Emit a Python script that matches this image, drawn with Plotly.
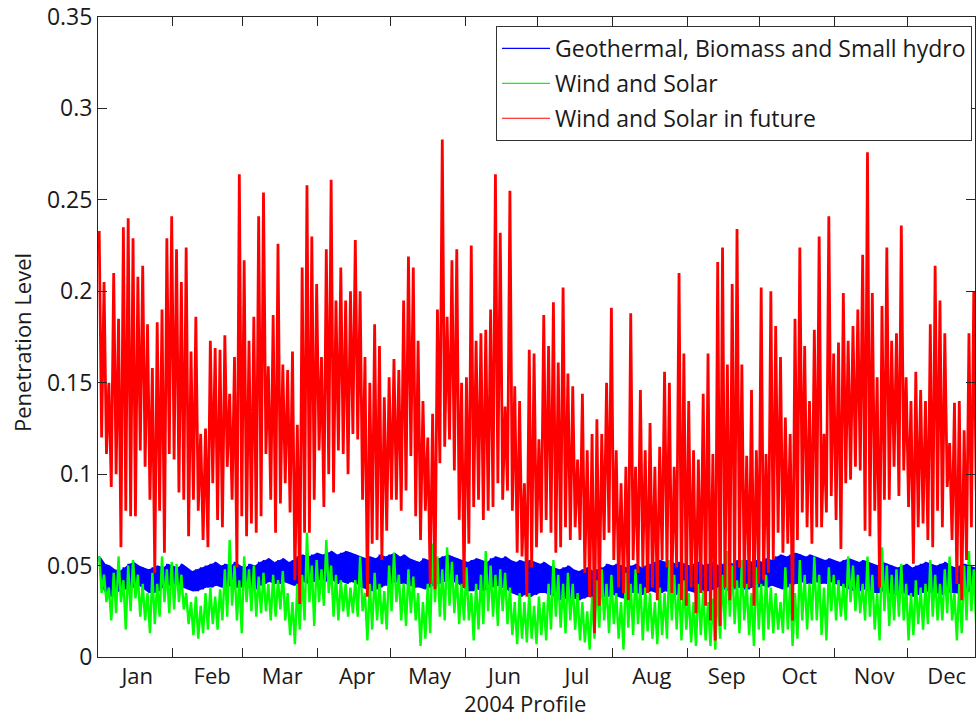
import plotly.graph_objects as go

# ---------------- data ----------------
MONTHS = ["Jan", "Feb", "Mar", "Apr", "May", "Jun", "Jul", "Aug", "Sep", "Oct", "Nov", "Dec"]
MONTH_DAYS = [31, 29, 31, 30, 31, 30, 31, 31, 30, 31, 30, 31]  # 2004 (leap year)
STEP_DAYS = 2  # each value pair = high / low of a 2-day window

SERIES_NAMES = ["Geothermal, Biomass and Small hydro", "Wind and Solar", "Wind and Solar in future"]

RED_HI = [
    0.233, 0.205, 0.150, 0.210, 0.185, 0.235, 0.240, 0.229, 0.208, 0.214,
    0.182, 0.158, 0.183, 0.190, 0.229, 0.241, 0.223, 0.205, 0.224, 0.167,
    0.186, 0.122, 0.125, 0.173, 0.169, 0.168, 0.176, 0.144, 0.164, 0.264,
    0.217, 0.173, 0.186, 0.241, 0.254, 0.159, 0.187, 0.226, 0.160, 0.157,
    0.167, 0.127, 0.213, 0.258, 0.230, 0.204, 0.164, 0.223, 0.261, 0.195,
    0.213, 0.195, 0.200, 0.228, 0.200, 0.164, 0.150, 0.182, 0.170, 0.142,
    0.153, 0.163, 0.157, 0.195, 0.219, 0.213, 0.173, 0.140, 0.120, 0.133,
    0.190, 0.283, 0.186, 0.217, 0.223, 0.150, 0.153, 0.225, 0.173, 0.177,
    0.179, 0.190, 0.264, 0.232, 0.137, 0.255, 0.148, 0.140, 0.095, 0.168,
    0.166, 0.119, 0.187, 0.170, 0.194, 0.161, 0.202, 0.155, 0.148, 0.108,
    0.144, 0.113, 0.122, 0.130, 0.122, 0.150, 0.191, 0.113, 0.095, 0.104,
    0.188, 0.104, 0.146, 0.113, 0.128, 0.104, 0.115, 0.156, 0.150, 0.104,
    0.210, 0.166, 0.140, 0.113, 0.108, 0.144, 0.166, 0.111, 0.216, 0.224,
    0.160, 0.204, 0.234, 0.160, 0.110, 0.146, 0.113, 0.202, 0.111, 0.200,
    0.181, 0.164, 0.131, 0.122, 0.185, 0.224, 0.170, 0.140, 0.179, 0.230,
    0.122, 0.241, 0.166, 0.172, 0.199, 0.173, 0.181, 0.190, 0.220, 0.276,
    0.199, 0.153, 0.192, 0.224, 0.173, 0.177, 0.236, 0.153, 0.140, 0.156,
    0.146, 0.140, 0.182, 0.214, 0.195, 0.177, 0.117, 0.139, 0.140, 0.124,
    0.177, 0.200,
]
RED_LO = [
    0.120, 0.111, 0.093, 0.100, 0.060, 0.080, 0.077, 0.077, 0.113, 0.104,
    0.086, 0.046, 0.080, 0.057, 0.111, 0.108, 0.090, 0.086, 0.066, 0.086,
    0.080, 0.064, 0.060, 0.095, 0.075, 0.071, 0.104, 0.086, 0.049, 0.077,
    0.066, 0.073, 0.068, 0.077, 0.111, 0.086, 0.068, 0.084, 0.095, 0.079,
    0.042, 0.029, 0.068, 0.068, 0.086, 0.113, 0.082, 0.100, 0.090, 0.113,
    0.111, 0.100, 0.122, 0.119, 0.086, 0.033, 0.062, 0.064, 0.053, 0.069,
    0.086, 0.086, 0.080, 0.091, 0.110, 0.077, 0.064, 0.080, 0.040, 0.037,
    0.106, 0.115, 0.119, 0.102, 0.075, 0.038, 0.062, 0.082, 0.086, 0.075,
    0.080, 0.082, 0.095, 0.086, 0.091, 0.080, 0.057, 0.055, 0.033, 0.049,
    0.060, 0.068, 0.075, 0.068, 0.057, 0.060, 0.071, 0.064, 0.071, 0.064,
    0.046, 0.033, 0.013, 0.028, 0.064, 0.068, 0.053, 0.038, 0.035, 0.031,
    0.053, 0.046, 0.049, 0.035, 0.038, 0.031, 0.053, 0.049, 0.035, 0.049,
    0.031, 0.028, 0.038, 0.024, 0.035, 0.028, 0.020, 0.009, 0.017, 0.038,
    0.031, 0.038, 0.049, 0.038, 0.038, 0.028, 0.040, 0.042, 0.046, 0.053,
    0.068, 0.057, 0.062, 0.020, 0.064, 0.079, 0.071, 0.062, 0.071, 0.071,
    0.079, 0.088, 0.075, 0.059, 0.095, 0.097, 0.104, 0.102, 0.069, 0.066,
    0.080, 0.038, 0.086, 0.086, 0.104, 0.088, 0.102, 0.082, 0.051, 0.071,
    0.073, 0.064, 0.060, 0.080, 0.071, 0.093, 0.064, 0.040, 0.031, 0.053,
    0.071, 0.091,
]
BLUE_HI = [
    0.055, 0.051, 0.050, 0.048, 0.047, 0.049, 0.051, 0.052, 0.050, 0.049,
    0.048, 0.049, 0.050, 0.049, 0.051, 0.050, 0.049, 0.051, 0.049, 0.047,
    0.048, 0.049, 0.050, 0.051, 0.052, 0.050, 0.051, 0.050, 0.052, 0.050,
    0.049, 0.051, 0.050, 0.052, 0.053, 0.054, 0.052, 0.053, 0.054, 0.052,
    0.053, 0.055, 0.056, 0.055, 0.056, 0.057, 0.056, 0.057, 0.058, 0.056,
    0.057, 0.058, 0.057, 0.056, 0.055, 0.054, 0.055, 0.054, 0.056, 0.055,
    0.056, 0.057, 0.055, 0.056, 0.054, 0.053, 0.052, 0.054, 0.053, 0.052,
    0.054, 0.055, 0.056, 0.055, 0.054, 0.053, 0.052, 0.053, 0.054, 0.053,
    0.052, 0.054, 0.055, 0.054, 0.055, 0.053, 0.052, 0.053, 0.052, 0.053,
    0.052, 0.051, 0.052, 0.050, 0.049, 0.048, 0.049, 0.050, 0.048, 0.047,
    0.048, 0.049, 0.047, 0.048, 0.049, 0.051, 0.050, 0.051, 0.050, 0.049,
    0.050, 0.051, 0.049, 0.050, 0.051, 0.052, 0.053, 0.052, 0.053, 0.051,
    0.052, 0.051, 0.050, 0.051, 0.052, 0.050, 0.051, 0.052, 0.050, 0.051,
    0.052, 0.051, 0.053, 0.052, 0.053, 0.052, 0.053, 0.052, 0.054, 0.053,
    0.055, 0.056, 0.055, 0.056, 0.057, 0.056, 0.055, 0.056, 0.055, 0.054,
    0.053, 0.054, 0.053, 0.052, 0.053, 0.054, 0.053, 0.052, 0.053, 0.052,
    0.051, 0.050, 0.052, 0.051, 0.050, 0.049, 0.050, 0.051, 0.049, 0.050,
    0.051, 0.052, 0.051, 0.050, 0.051, 0.052, 0.050, 0.049, 0.050, 0.051,
    0.050, 0.049,
]
BLUE_LO = [
    0.040, 0.035, 0.033, 0.035, 0.036, 0.037, 0.038, 0.038, 0.039, 0.037,
    0.035, 0.035, 0.036, 0.038, 0.039, 0.040, 0.039, 0.038, 0.037, 0.036,
    0.036, 0.037, 0.038, 0.038, 0.039, 0.038, 0.038, 0.039, 0.038, 0.038,
    0.039, 0.038, 0.037, 0.039, 0.040, 0.041, 0.040, 0.040, 0.041, 0.040,
    0.039, 0.040, 0.041, 0.040, 0.041, 0.042, 0.042, 0.041, 0.042, 0.040,
    0.041, 0.040, 0.041, 0.040, 0.038, 0.037, 0.036, 0.037, 0.038, 0.039,
    0.040, 0.041, 0.040, 0.040, 0.039, 0.038, 0.038, 0.037, 0.038, 0.039,
    0.040, 0.041, 0.042, 0.041, 0.040, 0.038, 0.036, 0.036, 0.037, 0.036,
    0.037, 0.038, 0.039, 0.038, 0.037, 0.035, 0.034, 0.033, 0.034, 0.033,
    0.034, 0.035, 0.035, 0.034, 0.033, 0.031, 0.032, 0.031, 0.032, 0.031,
    0.032, 0.033, 0.032, 0.032, 0.033, 0.033, 0.034, 0.033, 0.032, 0.034,
    0.035, 0.035, 0.034, 0.035, 0.036, 0.035, 0.035, 0.036, 0.035, 0.034,
    0.035, 0.036, 0.036, 0.035, 0.037, 0.036, 0.036, 0.037, 0.038, 0.037,
    0.036, 0.037, 0.038, 0.037, 0.037, 0.038, 0.038, 0.039, 0.038, 0.039,
    0.038, 0.037, 0.038, 0.039, 0.040, 0.041, 0.040, 0.040, 0.041, 0.040,
    0.040, 0.041, 0.040, 0.039, 0.038, 0.037, 0.036, 0.036, 0.037, 0.036,
    0.035, 0.035, 0.036, 0.035, 0.034, 0.034, 0.035, 0.034, 0.033, 0.034,
    0.035, 0.036, 0.035, 0.035, 0.034, 0.036, 0.035, 0.035, 0.034, 0.035,
    0.036, 0.035,
]
GREEN_HI = [
    0.055, 0.045, 0.038, 0.046, 0.055, 0.042, 0.050, 0.053, 0.045, 0.040,
    0.035, 0.046, 0.040, 0.055, 0.048, 0.052, 0.051, 0.045, 0.035, 0.030,
    0.033, 0.028, 0.035, 0.038, 0.033, 0.037, 0.048, 0.064, 0.050, 0.042,
    0.055, 0.048, 0.050, 0.044, 0.046, 0.040, 0.045, 0.042, 0.047, 0.035,
    0.030, 0.040, 0.045, 0.068, 0.050, 0.053, 0.048, 0.064, 0.050, 0.045,
    0.042, 0.040, 0.038, 0.042, 0.055, 0.035, 0.040, 0.046, 0.040, 0.036,
    0.050, 0.057, 0.045, 0.040, 0.048, 0.044, 0.035, 0.030, 0.040, 0.062,
    0.055, 0.048, 0.060, 0.052, 0.045, 0.040, 0.049, 0.035, 0.040, 0.045,
    0.058, 0.050, 0.045, 0.048, 0.046, 0.038, 0.030, 0.035, 0.030, 0.035,
    0.028, 0.033, 0.030, 0.040, 0.053, 0.045, 0.040, 0.046, 0.040, 0.035,
    0.030, 0.025, 0.033, 0.042, 0.048, 0.040, 0.045, 0.035, 0.030, 0.046,
    0.040, 0.048, 0.040, 0.038, 0.035, 0.030, 0.038, 0.035, 0.053, 0.045,
    0.040, 0.042, 0.035, 0.030, 0.040, 0.036, 0.030, 0.032, 0.038, 0.045,
    0.058, 0.050, 0.042, 0.053, 0.040, 0.035, 0.049, 0.040, 0.045, 0.038,
    0.035, 0.030, 0.049, 0.040, 0.035, 0.053, 0.045, 0.040, 0.055, 0.045,
    0.038, 0.049, 0.045, 0.042, 0.040, 0.055, 0.050, 0.045, 0.040, 0.055,
    0.045, 0.035, 0.060, 0.050, 0.045, 0.048, 0.051, 0.040, 0.035, 0.042,
    0.038, 0.040, 0.053, 0.045, 0.040, 0.048, 0.055, 0.035, 0.040, 0.050,
    0.058, 0.048,
]
GREEN_LO = [
    0.035, 0.030, 0.020, 0.024, 0.030, 0.015, 0.025, 0.032, 0.022, 0.020,
    0.013, 0.018, 0.022, 0.030, 0.024, 0.026, 0.030, 0.026, 0.018, 0.012,
    0.010, 0.013, 0.015, 0.018, 0.015, 0.020, 0.022, 0.028, 0.020, 0.013,
    0.030, 0.025, 0.022, 0.024, 0.025, 0.020, 0.022, 0.026, 0.020, 0.012,
    0.007, 0.015, 0.020, 0.030, 0.017, 0.030, 0.028, 0.035, 0.022, 0.020,
    0.025, 0.022, 0.024, 0.022, 0.025, 0.009, 0.015, 0.020, 0.018, 0.015,
    0.025, 0.030, 0.020, 0.017, 0.024, 0.020, 0.006, 0.010, 0.013, 0.030,
    0.022, 0.020, 0.028, 0.024, 0.018, 0.020, 0.020, 0.009, 0.015, 0.018,
    0.025, 0.022, 0.017, 0.025, 0.018, 0.012, 0.007, 0.010, 0.008, 0.010,
    0.007, 0.012, 0.009, 0.015, 0.022, 0.016, 0.013, 0.020, 0.015, 0.009,
    0.008, 0.004, 0.010, 0.016, 0.020, 0.013, 0.018, 0.010, 0.004, 0.016,
    0.012, 0.018, 0.009, 0.014, 0.010, 0.007, 0.012, 0.010, 0.020, 0.015,
    0.009, 0.015, 0.008, 0.006, 0.012, 0.009, 0.006, 0.004, 0.010, 0.015,
    0.022, 0.018, 0.013, 0.020, 0.012, 0.006, 0.015, 0.009, 0.015, 0.013,
    0.015, 0.013, 0.015, 0.006, 0.010, 0.020, 0.015, 0.020, 0.020, 0.012,
    0.009, 0.025, 0.020, 0.022, 0.020, 0.030, 0.025, 0.024, 0.020, 0.022,
    0.015, 0.009, 0.025, 0.017, 0.020, 0.022, 0.020, 0.009, 0.012, 0.018,
    0.015, 0.018, 0.022, 0.020, 0.020, 0.024, 0.020, 0.009, 0.013, 0.020,
    0.025, 0.017,
]

# ---------------- build plotting arrays ----------------
def zigzag(hi, lo):
    """alternate the high and low of each 2-day window (x in hours of the year)"""
    n = min(len(hi), len(lo))
    xs, ys = [], []
    for k in range(n):
        start_h = k * STEP_DAYS * 24
        xs += [start_h + 12, start_h + 36]
        ys += [hi[k], lo[k]]
    return xs, ys


def window_centres(n):
    return [k * STEP_DAYS * 24 + 24 for k in range(n)]


month_start_h = []
acc = 0
for d in MONTH_DAYS:
    month_start_h.append(acc * 24)
    acc += d
label_pos_h = [s + 390 for s in month_start_h]
boundary_ticks = month_start_h[1:]

X_MAX = 8712
BLUE, GREEN, RED = "#0000FF", "#00FF00", "#FF0000"

fig = go.Figure()


def add_series(hi, lo, color, zig_width, band=False):
    n = min(len(hi), len(lo))
    if band:
        xc = window_centres(n)
        fig.add_trace(go.Scatter(x=xc, y=lo[:n], mode="lines", line=dict(width=0, color=color),
                                 showlegend=False, hoverinfo="skip"))
        fig.add_trace(go.Scatter(x=xc, y=hi[:n], mode="lines", line=dict(width=0, color=color),
                                 fill="tonexty", fillcolor=color, showlegend=False, hoverinfo="skip"))
    xs, ys = zigzag(hi, lo)
    fig.add_trace(go.Scatter(x=xs, y=ys, mode="lines", showlegend=False,
                             line=dict(color=color, width=zig_width), hoverinfo="skip"))


add_series(BLUE_HI, BLUE_LO, BLUE, 1.6, band=True)
add_series(GREEN_HI, GREEN_LO, GREEN, 2.4)
add_series(RED_HI, RED_LO, RED, 2.8)

# legend entries (thin lines like the reference legend)
for name, color in zip(SERIES_NAMES, [BLUE, GREEN, RED]):
    fig.add_trace(go.Scatter(x=[None], y=[None], mode="lines", name=name, legendgroup=name,
                             line=dict(color=color, width=1.2)))

AX_COLOR = "#262626"
TXT = "#1a1a1a"
FONT = "Open Sans, Lato, sans-serif"

fig.update_layout(
    width=976, height=717,
    margin=dict(l=98, r=1, t=17, b=60),
    paper_bgcolor="white", plot_bgcolor="white",
    font=dict(family=FONT, size=22, color=TXT),
    showlegend=True,
    legend=dict(
        x=(496 - 98) / 877, y=(657 - 26) / 640, xanchor="left", yanchor="top",
        bgcolor="white", bordercolor="#333333", borderwidth=1,
        font=dict(family=FONT, size=23, color=TXT),
        traceorder="grouped", tracegroupgap=2, itemwidth=48,
    ),
    xaxis=dict(
        range=[0, X_MAX], showgrid=False, zeroline=False,
        showline=True, linecolor=AX_COLOR, linewidth=1, mirror="allticks",
        tickmode="array", tickvals=label_pos_h, ticktext=MONTHS, ticks="",
        ticklabelstandoff=0,
        tickfont=dict(family=FONT, size=22, color=TXT),
        minor=dict(tickmode="array", tickvals=boundary_ticks, ticks="inside",
                   ticklen=9, tickcolor=AX_COLOR, tickwidth=1),
    ),
    yaxis=dict(
        range=[0, 0.35], dtick=0.05, tick0=0, showgrid=False, zeroline=False,
        showline=True, linecolor=AX_COLOR, linewidth=1, mirror="allticks",
        ticks="inside", ticklen=9, tickcolor=AX_COLOR,
        tickfont=dict(family=FONT, size=23, color=TXT),
    ),
)

fig.add_annotation(text="2004 Profile", xref="paper", yref="paper",
                   x=(525 - 98) / 877, y=(657 - 703) / 640,
                   xanchor="center", yanchor="middle", showarrow=False,
                   font=dict(family=FONT, size=22, color=TXT))
fig.add_annotation(text="Penetration Level", xref="paper", yref="paper",
                   x=(22 - 98) / 877, y=(657 - 343) / 640, textangle=-90,
                   xanchor="center", yanchor="middle", showarrow=False,
                   font=dict(family=FONT, size=22, color=TXT))

fig.write_html("out.html")
